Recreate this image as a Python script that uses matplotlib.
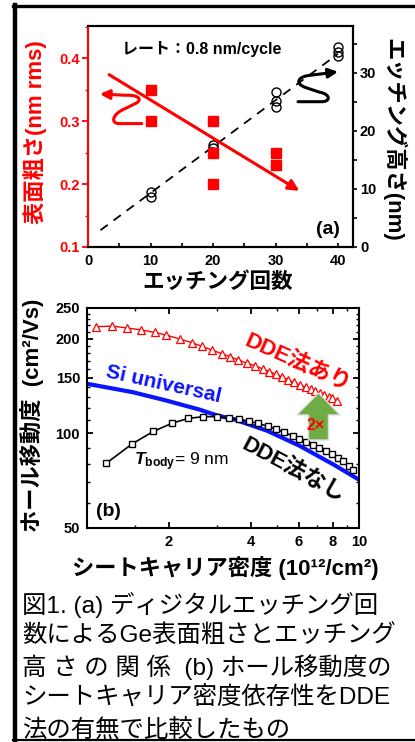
import matplotlib
matplotlib.use('Agg')
import matplotlib.pyplot as plt
from matplotlib.path import Path
from matplotlib.patches import FancyArrowPatch, FancyArrow
from matplotlib.lines import Line2D
from matplotlib.ticker import MultipleLocator, FixedLocator, NullFormatter

plt.rcParams['font.family'] = ['Liberation Sans', 'Noto Sans CJK JP']
plt.rcParams['mathtext.fontset'] = 'custom'
plt.rcParams['mathtext.rm'] = 'Liberation Sans:bold'
plt.rcParams['mathtext.it'] = 'Liberation Sans:italic:bold'
plt.rcParams['mathtext.bf'] = 'Liberation Sans:bold'
plt.rcParams['axes.linewidth'] = 1.5

# ---- (a) roughness / etch depth vs cycles
cycles_rough = [10, 10, 20, 20, 20, 30, 30]
roughness = [0.35, 0.30, 0.30, 0.25, 0.20, 0.25, 0.23]
cycles_depth = [10, 10, 20, 20, 20, 30, 30, 30, 40, 40, 40]
depth = [9.4, 8.7, 17.6, 17.0, 16.4, 26.8, 25.1, 24.1, 34.4, 33.7, 32.9]
fit_x = [2, 40]
fit_y = [2.9, 33.3]
trend_x = [3.0, 34.2]
trend_y = [0.376, 0.187]

# ---- (b) hole mobility vs sheet carrier density
dens_dde = [1.08, 1.24, 1.40, 1.58, 1.78, 1.96, 2.20, 2.43, 2.64, 2.87, 3.13, 3.36,
            3.60, 3.86, 4.14, 4.43, 4.68, 4.94, 5.20, 5.48, 5.77, 6.08, 6.40, 6.65,
            6.90, 7.17, 7.45, 7.74, 7.95, 8.30]
mob_dde = [218, 219, 216, 213, 209, 205, 199, 194, 189, 184, 179, 175,
           171, 167, 164, 160, 157, 154, 151, 148, 145, 142, 140, 138,
           136, 134, 132, 130.5, 129, 127]
dens_ref = [1.175, 1.46, 1.75, 2.06, 2.36, 2.68, 3.0, 3.34, 3.63, 3.95, 4.27, 4.62,
            4.95, 5.31, 5.70, 6.03, 6.38, 6.79, 7.15, 7.56, 7.94, 8.35, 8.76, 9.21, 9.53]
mob_ref = [80.2, 92.3, 101.3, 107.7, 111.5, 112.9, 112.9, 111.7, 110.9, 109.1, 107.5, 105.1,
           103.1, 100.6, 98.1, 95.7, 93.9, 91.8, 90.1, 87.9, 85.7, 83.6, 81.6, 78.6, 76.7]
dens_si = [1.0, 1.47, 1.96, 2.6, 3.0, 3.45, 4.6, 6.05, 8.05, 10.0]
mob_si = [143.6, 135.1, 127.0, 118.8, 114.0, 110.9, 101.8, 91.2, 79.6, 71.2]

caption = ["図1. (a) ディジタルエッチング回",
           "数によるGe表面粗さとエッチング",
           "高 さ の 関 係  (b) ホール移動度の",
           "シートキャリア密度依存性をDDE",
           "法の有無で比較したもの"]

fig = plt.figure(figsize=(4.15, 7.42), dpi=100)

# outer frame
fig.add_artist(Line2D([15/415, 15/415], [1 - 5/742, 1 - 741/742], color='black', lw=3.2, transform=fig.transFigure))
fig.add_artist(Line2D([13/415, 1.0], [1 - 6/742, 1 - 6/742], color='black', lw=2.4, transform=fig.transFigure))
fig.add_artist(Line2D([13/415, 1.0], [1 - 740/742, 1 - 740/742], color='black', lw=1.6, transform=fig.transFigure))

# ================= panel (a)
ax = fig.add_axes([88/415, 1 - 247/742, 265/415, 221/742])
ax2 = ax.twinx()
ax.set_zorder(ax2.get_zorder() + 1)
ax.patch.set_visible(False)

ax.plot(cycles_rough, roughness, 's', color='red', ms=6.7, zorder=3)
ax.annotate('', xy=(trend_x[1], trend_y[1]), xytext=(trend_x[0], trend_y[0]),
            arrowprops=dict(arrowstyle='-|>', color='red', lw=2.2, mutation_scale=16))
ax2.plot(cycles_depth, depth, 'o', mfc='none', mec='black', ms=6.5, mew=1.0)
ax2.plot(fit_x, fit_y, color='black', lw=1.3, ls=(0, (5, 4)))

# curly arrows pointing to each axis
red_path = Path([(8.6, 0.296), (5.0, 0.296), (3.5, 0.296), (3.9, 0.312), (6.0, 0.320),
                 (7.4, 0.327), (8.9, 0.333), (8.2, 0.342), (6.0, 0.341), (1.9, 0.343)],
                [Path.MOVETO, Path.LINETO, Path.CURVE4, Path.CURVE4, Path.CURVE4,
                 Path.LINETO, Path.CURVE4, Path.CURVE4, Path.CURVE4, Path.LINETO])
ax.add_patch(FancyArrowPatch(path=red_path, arrowstyle='-|>', mutation_scale=14,
                             color='red', lw=2.2, transform=ax.transData))
blk_path = Path([(33.6, 25.05), (37.4, 25.05), (38.9, 25.05), (38.8, 26.4), (37.0, 26.7),
                 (34.8, 27.5), (33.0, 28.2), (33.6, 29.4), (35.5, 29.6), (40.0, 30.2)],
                [Path.MOVETO, Path.LINETO, Path.CURVE4, Path.CURVE4, Path.CURVE4,
                 Path.LINETO, Path.CURVE4, Path.CURVE4, Path.CURVE4, Path.LINETO])
ax2.add_patch(FancyArrowPatch(path=blk_path, arrowstyle='-|>', mutation_scale=14,
                              color='black', lw=2.2, transform=ax2.transData))

ax.set_xlim(0, 42.4)
ax.set_ylim(0.1, 0.451)
ax2.set_ylim(0, 38.1)
ax.set_xticks([0, 10, 20, 30, 40])
ax.xaxis.set_minor_locator(MultipleLocator(5))
ax.set_yticks([0.1, 0.2, 0.3, 0.4])
ax.yaxis.set_minor_locator(MultipleLocator(0.05))
ax2.set_yticks([0, 10, 20, 30])
ax2.yaxis.set_minor_locator(MultipleLocator(5))

ax.spines['left'].set_color('red')
ax2.spines['left'].set_color('red')
ax.tick_params(axis='y', colors='red', direction='out', length=4, width=1.3, labelsize=10.5, pad=2)
ax.tick_params(axis='y', which='minor', colors='red', direction='out', length=2.5, width=1.0)
ax.tick_params(axis='x', which='both', direction='in', length=3, width=1.2, labelsize=10.5, pad=5)
ax2.tick_params(axis='y', which='both', direction='out', length=3, width=1.2, labelsize=10.5, pad=2)
for lab in ax.get_xticklabels() + ax.get_yticklabels() + ax2.get_yticklabels():
    lab.set_fontweight('bold')

ax.text(0.127, 0.896, 'レート：0.8 nm/cycle', transform=ax.transAxes, ha='left', va='center',
        fontsize=11.5, fontweight='bold')
ax.text(0.906, 0.08, '(a)', transform=ax.transAxes, ha='center', va='center',
        fontsize=14, fontweight='bold')

fig.text(35/415, 1 - 132/742, '表面粗さ(nm rms)', rotation=90, ha='center', va='center',
         color='red', fontsize=16, fontweight='bold')
fig.text(393/415, 1 - 140/742, 'エッチング高さ(nm)', rotation=-90, ha='center', va='center',
         fontsize=16, fontweight='bold')
fig.text(218/415, 1 - 283/742, 'エッチング回数', ha='center', va='center',
         fontsize=15.5, fontweight='bold')

# ================= panel (b)
bx = fig.add_axes([87/415, 1 - 528/742, 272/415, 220/742])
bx.set_xscale('log')
bx.set_yscale('log')
bx.plot(dens_si, mob_si, color='#0a14ff', lw=3, zorder=2)
bx.plot(dens_dde, mob_dde, '-^', color='red', mfc='white', ms=5.2, mew=0.9, lw=1.0, zorder=3)
bx.plot(dens_ref, mob_ref, '-s', color='black', mfc='white', ms=5, mew=1.0, lw=1.2, zorder=3)

bx.set_xlim(1, 10)
bx.set_ylim(50, 250)
bx.xaxis.set_major_locator(FixedLocator([2, 4, 6, 8, 10]))
bx.xaxis.set_minor_locator(FixedLocator([1.5, 3, 5, 7, 9]))
bx.xaxis.set_major_formatter(matplotlib.ticker.FixedFormatter(['2', '4', '6', '8', '10']))
bx.xaxis.set_minor_formatter(NullFormatter())
bx.yaxis.set_major_locator(FixedLocator([50, 100, 150, 200, 250]))
bx.yaxis.set_major_formatter(matplotlib.ticker.FixedFormatter(['50', '100', '150', '200', '250']))
bx.yaxis.set_minor_locator(MultipleLocator(10))
bx.yaxis.set_minor_formatter(NullFormatter())
bx.tick_params(which='both', direction='in', top=True, right=True, labelsize=10.5)
bx.tick_params(which='major', length=4, width=1.3, pad=5)
bx.tick_params(which='minor', length=2.5, width=1.0)
for lab in bx.get_xticklabels() + bx.get_yticklabels():
    lab.set_fontweight('bold')

bx.text(0.283, 0.653, 'Si universal', transform=bx.transAxes, ha='center', va='center',
        rotation=-12.5, color='#0a14ff', fontsize=15, fontweight='bold')
bx.text(0.772, 0.75, 'DDE法あり', transform=bx.transAxes, ha='center', va='center',
        rotation=-24, color='red', fontsize=16, fontweight='bold')
bx.text(0.757, 0.264, 'DDE法なし', transform=bx.transAxes, ha='center', va='center',
        rotation=-28, color='black', fontsize=16, fontweight='bold')
bx.text(0.345, 0.30, r'$T_{\mathrm{body}}$= 9 nm', transform=bx.transAxes, ha='center', va='center',
        fontsize=12.5)
bx.text(0.08, 0.073, '(b)', transform=bx.transAxes, ha='center', va='center',
        fontsize=14, fontweight='bold')

bx.add_patch(FancyArrow(0.851, 0.40, 0, 0.214, width=0.0735, head_width=0.158, head_length=0.1,
                        length_includes_head=True, transform=bx.transAxes,
                        facecolor='#6fac46', edgecolor='#dcdcdc', lw=1.0, zorder=4))
bx.text(0.842, 0.464, '2×', transform=bx.transAxes, ha='center', va='center',
        color='red', fontsize=11.5, fontweight='bold', zorder=5)

fig.text(32/415, 1 - 415/742, 'ホール移動度  (cm²/Vs)', rotation=90, ha='center', va='center',
         fontsize=16, fontweight='bold')
fig.text(225/415, 1 - 568/742, 'シートキャリア密度 (10¹²/cm²)', ha='center', va='center',
         fontsize=16, fontweight='bold')

# caption
for i, line in enumerate(caption):
    fig.text(22/415, 1 - (605 + i * 31.2) / 742, line, ha='left', va='center', fontsize=17.6)

fig.savefig('out.png', dpi=100)
